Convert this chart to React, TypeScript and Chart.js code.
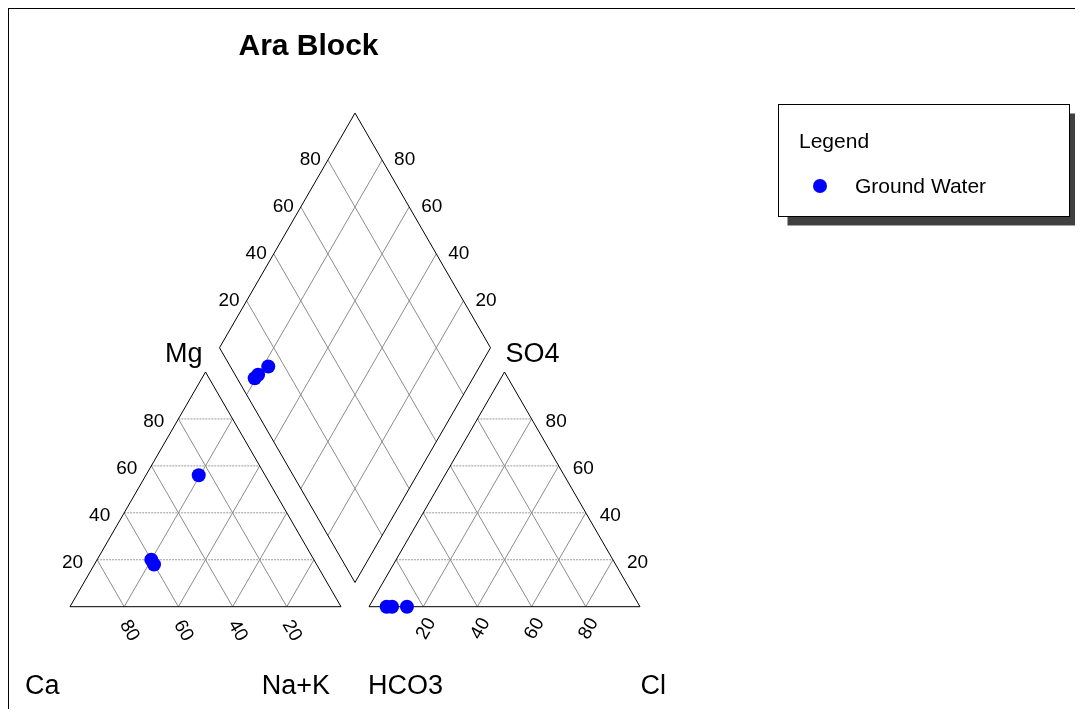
import React, { useEffect, useRef } from 'react';
import Chart from 'chart.js/auto';

// ---- Data (percent of meq) ----
const SAMPLE_NAMES = ['GW-1', 'GW-2', 'GW-3'];
const CA = [60, 60, 24.5];
const MG = [20, 18, 56];
const NAK = [20, 22, 19.5];
const HCO3 = [91.5, 86, 93.5];
const SO4 = [0, 0, 0];
const CL = [8.5, 14, 6.5];

const TICKS = [20, 40, 60, 80];
const TITLE = 'Ara Block';
const SERIES_LABEL = 'Ground Water';
const LEGEND_TITLE = 'Legend';

// ---- Geometry ----
const H = Math.sqrt(3) / 2;
const GAP = 28 / 271;
const OX = 1 + GAP; // right triangle origin
const K = 271; // px per unit
const W = 1066;
const HT = 700;
const X0 = 61; // canvas px of origin
const Y0 = 597.7;

type P = { x: number; y: number };

function cationXY(ca: number, mg: number, nak: number): P {
  const t = ca + mg + nak;
  const m = mg / t, n = nak / t;
  return { x: n + m / 2, y: m * H };
}
function anionXY(hc: number, so: number, cl: number): P {
  const t = hc + so + cl;
  const s = so / t, c = cl / t;
  return { x: OX + c + s / 2, y: s * H };
}
function diamondXY(n: number, hc: number): P {
  const k = 2 + GAP - hc - n;
  return { x: n + k / 2, y: H * k };
}

const B: P = { x: 1 + GAP / 2, y: GAP * H };
const E1: P = { x: -0.5, y: H };
const E2: P = { x: 0.5, y: H };
const add = (a: P, b: P, f = 1): P => ({ x: a.x + b.x * f, y: a.y + b.y * f });
const DL = add(B, E1);
const DR = add(B, E2);
const DT = add(DL, E2);

function buildGrid() {
  const solid: P[][] = [];
  const dotted: P[][] = [];
  TICKS.forEach((t) => {
    const f = t / 100;
    // left triangle
    dotted.push([{ x: f / 2, y: f * H }, { x: 1 - f / 2, y: f * H }]);
    solid.push([{ x: f, y: 0 }, { x: f + (1 - f) / 2, y: (1 - f) * H }]);
    solid.push([{ x: 1 - f, y: 0 }, { x: (1 - f) / 2, y: (1 - f) * H }]);
    // right triangle
    dotted.push([{ x: OX + f / 2, y: f * H }, { x: OX + 1 - f / 2, y: f * H }]);
    solid.push([{ x: OX + f, y: 0 }, { x: OX + f + (1 - f) / 2, y: (1 - f) * H }]);
    solid.push([{ x: OX + 1 - f, y: 0 }, { x: OX + (1 - f) / 2, y: (1 - f) * H }]);
    // diamond
    const a = add(B, E1, f);
    solid.push([a, add(a, E2)]);
    const b = add(B, E2, f);
    solid.push([b, add(b, E1)]);
  });
  const outlines: P[][] = [
    [{ x: 0, y: 0 }, { x: 1, y: 0 }, { x: 0.5, y: H }, { x: 0, y: 0 }],
    [{ x: OX, y: 0 }, { x: OX + 1, y: 0 }, { x: OX + 0.5, y: H }, { x: OX, y: 0 }],
    [B, DR, DT, DL, B],
  ];
  return { solid, dotted, outlines };
}

const FONT = '"Liberation Sans", Arial, sans-serif';

const textPlugin = {
  id: 'piperText',
  afterDraw(chart: any) {
    const ctx = chart.ctx as CanvasRenderingContext2D;
    const xs = chart.scales.x, ys = chart.scales.y;
    const px = (p: P) => ({ x: xs.getPixelForValue(p.x), y: ys.getPixelForValue(p.y) });
    ctx.save();
    ctx.fillStyle = '#000';

    // title
    ctx.font = `bold 30px ${FONT}`;
    ctx.textAlign = 'center';
    ctx.textBaseline = 'middle';
    ctx.fillText(TITLE, 299.5, 38);

    // tick labels
    ctx.font = `19px ${FONT}`;
    TICKS.forEach((t) => {
      const f = t / 100;
      // Mg (left edge of left triangle)
      let q = px({ x: f / 2, y: f * H });
      ctx.textAlign = 'right';
      ctx.fillText(String(t), q.x - 14, q.y + 3);
      // SO4 (right edge of right triangle)
      q = px({ x: OX + 1 - f / 2, y: f * H });
      ctx.textAlign = 'left';
      ctx.fillText(String(t), q.x + 14, q.y + 3);
      // diamond upper-left
      q = px(add(DL, E2, f));
      ctx.textAlign = 'right';
      ctx.fillText(String(t), q.x - 7, q.y);
      // diamond upper-right
      q = px(add(DR, E1, f));
      ctx.textAlign = 'left';
      ctx.fillText(String(t), q.x + 12, q.y);
      // Ca (bottom of left triangle)
      q = px({ x: 1 - f, y: 0 });
      ctx.save();
      ctx.translate(q.x + 5, q.y + 24);
      ctx.rotate(Math.PI / 3);
      ctx.textAlign = 'center';
      ctx.fillText(String(t), 0, 0);
      ctx.restore();
      // Cl (bottom of right triangle)
      q = px({ x: OX + f, y: 0 });
      ctx.save();
      ctx.translate(q.x + 3, q.y + 22);
      ctx.rotate(-Math.PI / 3);
      ctx.textAlign = 'center';
      ctx.fillText(String(t), 0, 0);
      ctx.restore();
    });

    // corner labels
    ctx.font = `27px ${FONT}`;
    ctx.textBaseline = 'middle';
    let q = px({ x: 0.5, y: H });
    ctx.textAlign = 'right';
    ctx.fillText('Mg', q.x - 3, q.y - 17);
    q = px({ x: OX + 0.5, y: H });
    ctx.textAlign = 'left';
    ctx.fillText('SO4', q.x + 1, q.y - 17);
    q = px({ x: 0, y: 0 });
    ctx.textAlign = 'left';
    ctx.fillText('Ca', q.x - 45, q.y + 80);
    q = px({ x: 1, y: 0 });
    ctx.textAlign = 'right';
    ctx.fillText('Na+K', q.x - 11, q.y + 80);
    q = px({ x: OX, y: 0 });
    ctx.textAlign = 'left';
    ctx.fillText('HCO3', q.x - 1, q.y + 80);
    q = px({ x: OX + 1, y: 0 });
    ctx.textAlign = 'right';
    ctx.fillText('Cl', q.x + 26, q.y + 80);

    // legend box
    const lx = 769.5, ly = 95.5, lw = 291, lh = 112;
    ctx.fillStyle = '#404040';
    ctx.fillRect(lx + 9, ly + 9, lw, lh);
    ctx.fillStyle = '#fff';
    ctx.fillRect(lx, ly, lw, lh);
    ctx.strokeStyle = '#000';
    ctx.lineWidth = 1;
    ctx.strokeRect(lx, ly, lw, lh);
    ctx.fillStyle = '#000';
    ctx.font = `21px ${FONT}`;
    ctx.textAlign = 'left';
    ctx.textBaseline = 'middle';
    ctx.fillText(LEGEND_TITLE, 790, 133);
    ctx.fillText(SERIES_LABEL, 846, 178);
    ctx.fillStyle = '#0000ff';
    ctx.beginPath();
    ctx.arc(811, 177, 7, 0, Math.PI * 2);
    ctx.fill();
    ctx.restore();
  },
};

export default function App() {
  const ref = useRef<HTMLCanvasElement>(null);
  useEffect(() => {
    if (!ref.current) return;
    const { solid, dotted, outlines } = buildGrid();
    const pts: P[] = [];
    SAMPLE_NAMES.forEach((_, i) => {
      const c = cationXY(CA[i], MG[i], NAK[i]);
      const a = anionXY(HCO3[i], SO4[i], CL[i]);
      const tC = CA[i] + MG[i] + NAK[i];
      const tA = HCO3[i] + SO4[i] + CL[i];
      const d = diamondXY(NAK[i] / tC, HCO3[i] / tA);
      pts.push(c, a, d);
    });
    const lineDs = (data: P[], color: string, dash: number[], order: number) => ({
      type: 'scatter' as const,
      data,
      showLine: true,
      borderColor: color,
      borderWidth: 1,
      borderDash: dash,
      pointRadius: 0,
      pointHoverRadius: 0,
      fill: false,
      order,
    });
    const datasets: any[] = [
      {
        type: 'scatter',
        label: SERIES_LABEL,
        data: pts,
        backgroundColor: '#0000ff',
        borderWidth: 0,
        pointRadius: 7,
        pointHoverRadius: 7,
        order: 0,
      },
      ...outlines.map((d) => lineDs(d, '#000000', [], 1)),
      ...solid.map((d) => lineDs(d, '#8c8c8c', [], 2)),
      ...dotted.map((d) => lineDs(d, '#9a9a9a', [2, 1], 2)),
    ];
    const chart = new Chart(ref.current, {
      type: 'scatter',
      data: { datasets },
      options: {
        animation: false,
        responsive: false,
        devicePixelRatio: 1,
        layout: { padding: 0, autoPadding: false },
        events: [],
        plugins: { legend: { display: false }, tooltip: { enabled: false }, title: { display: false } },
        scales: {
          x: { type: 'linear', display: false, min: -X0 / K, max: (W - X0) / K },
          y: { type: 'linear', display: false, min: (Y0 - HT) / K, max: Y0 / K },
        },
      },
      plugins: [textPlugin],
    });
    return () => chart.destroy();
  }, []);
  return (
    <div
      style={{
        width: W,
        height: HT,
        borderTop: '1px solid #000',
        borderLeft: '1px solid #000',
        borderRight: '1px solid #000',
        background: '#fff',
      }}
    >
      <canvas ref={ref} width={W} height={HT} style={{ display: 'block' }} />
    </div>
  );
}
